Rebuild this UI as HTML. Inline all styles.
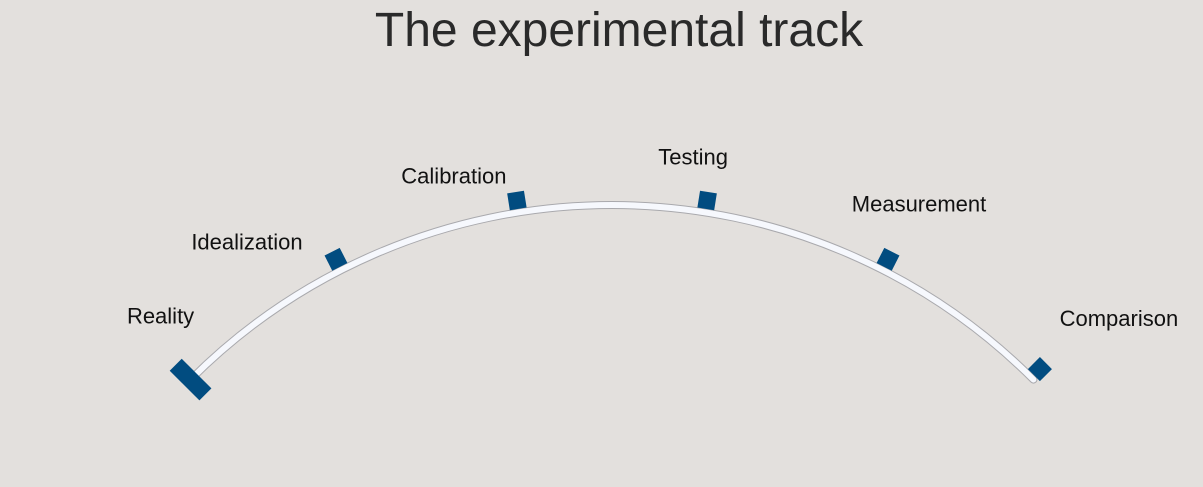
<!DOCTYPE html>
<html><head><meta charset="utf-8"><style>
html,body{margin:0;padding:0;background:#e3e0dd;}
svg{display:block;font-family:"Liberation Sans",sans-serif;}
</style></head><body>
<svg id="chart" width="1203" height="487" viewBox="0 0 1203 487">
<rect width="1203" height="487" fill="#e3e0dd"/>
<text x="619" y="46" text-anchor="middle" font-size="48" fill="#2a2a2a">The experimental track</text>
<g id="track"></g>
<g id="marks"></g>
<g id="labels"></g>
</svg>
<script>
const stages = ["Reality","Idealization","Calibration","Testing","Measurement","Comparison"];
const progress = [0, 0.2, 0.4, 0.6, 0.8, 1.0];
const NS = "http://www.w3.org/2000/svg";
const cx = 612, cy = 801, R = 596, a0 = -45, a1 = 45;
function ang(v){ return (a0 + (a1 - a0) * v) * Math.PI / 180; }
function pt(v, r){ const a = ang(v); return [cx + r * Math.sin(a), cy - r * Math.cos(a)]; }
const labelOff = [[-30,-64],[-89,-18],[-63,-25],[-14,-44],[31,-56],[79,-51]];

const track = document.getElementById('track');
const p0 = pt(0, R), p1 = pt(1, R);
const d = `M${p0[0]},${p0[1]} A${R},${R} 0 0 1 ${p1[0]},${p1[1]}`;
const outer = document.createElementNS(NS, 'path');
outer.setAttribute('d', d); outer.setAttribute('fill', 'none'); outer.setAttribute('stroke', '#a9a9ad'); outer.setAttribute('stroke-width', '8'); outer.setAttribute('stroke-linecap', 'round');


track.appendChild(outer);
const inner = document.createElementNS(NS, 'path');
inner.setAttribute('d', d); inner.setAttribute('fill', 'none'); inner.setAttribute('stroke', '#f6f8fd'); inner.setAttribute('stroke-width', '6'); inner.setAttribute('stroke-linecap', 'round');


track.appendChild(inner);

const marks = document.getElementById('marks');
const labels = document.getElementById('labels');
stages.forEach((s, i) => {
  const v = progress[i];
  const deg = a0 + (a1 - a0) * v;
  const r = document.createElementNS(NS, 'rect');
  let c;
  if (i === 0) {
    c = pt(v, R);
    r.setAttribute('x', -8.5); r.setAttribute('y', -21); r.setAttribute('width', 17); r.setAttribute('height', 42);
  } else {
    c = pt(v, 608);
    if (i === stages.length - 1) { c = [c[0] - 2, c[1] - 2]; }
    r.setAttribute('x', -8.5); r.setAttribute('y', -8.5); r.setAttribute('width', 17); r.setAttribute('height', 17);
  }
  r.setAttribute('transform', `translate(${c[0]},${c[1]}) rotate(${deg})`);
  r.setAttribute('fill', '#014c80');
  
  
  marks.appendChild(r);
  const t = document.createElementNS(NS, 'text');
  t.setAttribute('x', c[0] + labelOff[i][0]);
  t.setAttribute('y', c[1] + labelOff[i][1] + 8);
  t.setAttribute('text-anchor', 'middle');
  t.setAttribute('font-size', '22');
  t.setAttribute('fill', '#111');
  t.textContent = s;
  
  
  labels.appendChild(t);
});
</script>
</body></html>
